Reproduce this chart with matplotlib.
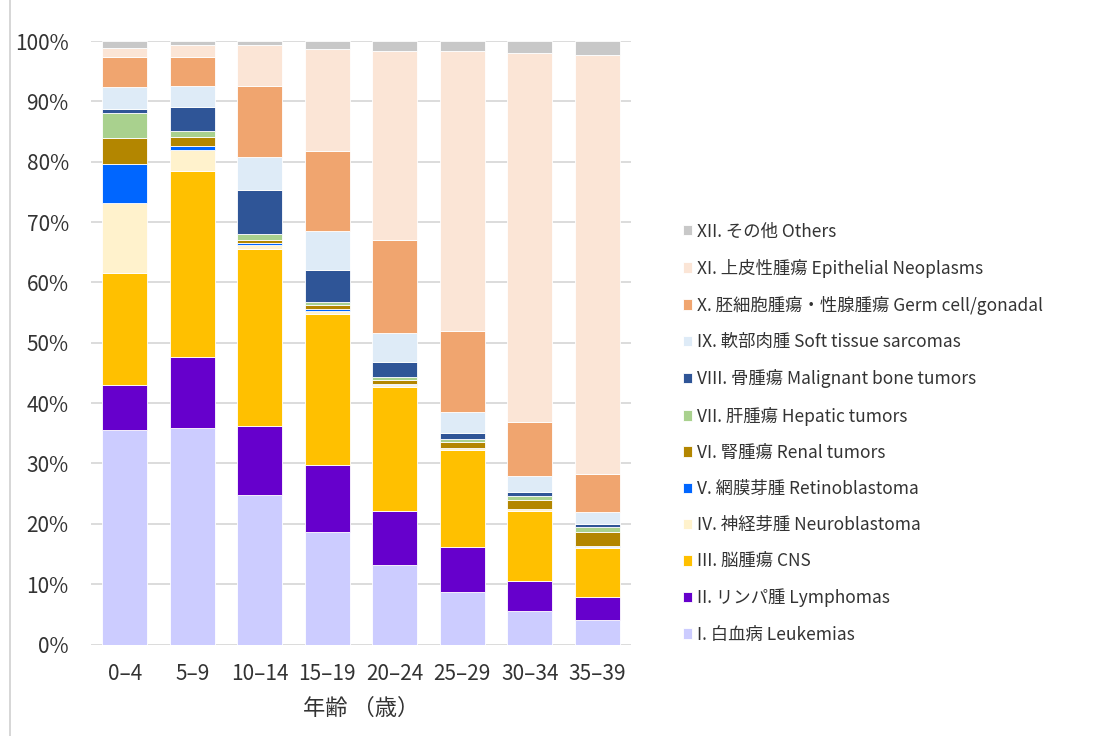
import numpy as np
import matplotlib
matplotlib.use("Agg")
import matplotlib.pyplot as plt
from matplotlib.lines import Line2D

plt.rcParams['font.family'] = ['Noto Sans CJK JP', 'DejaVu Sans']

# age groups
ages = ["0–4", "5–9", "10–14", "15–19", "20–24", "25–29", "30–34", "35–39"]

# share of each diagnostic group per age band (%)
leukemias = [35.5, 35.9, 24.8, 18.6, 13.2, 8.7, 5.5, 4.0]
lymphomas = [7.5, 11.8, 11.4, 11.1, 9.0, 7.5, 5.1, 3.9]
cns = [18.6, 30.8, 29.4, 25.1, 20.5, 16.0, 11.6, 8.1]
neuroblastoma = [11.6, 3.4, 0.6, 0.5, 0.3, 0.3, 0.2, 0.2]
retinoblastoma = [6.4, 0.7, 0.3, 0.3, 0.2, 0.1, 0.1, 0.1]
renal = [4.3, 1.5, 0.5, 0.7, 0.6, 1.0, 1.4, 2.3]
hepatic = [4.2, 1.0, 1.0, 0.4, 0.6, 0.4, 0.7, 0.8]
bone = [0.6, 3.9, 7.3, 5.3, 2.4, 1.0, 0.6, 0.5]
soft_tissue = [3.6, 3.6, 5.5, 6.5, 4.8, 3.6, 2.8, 2.1]
germ_cell = [5.0, 4.7, 11.8, 13.2, 15.4, 13.3, 8.8, 6.3]
epithelial = [1.5, 2.1, 6.8, 16.9, 31.4, 46.5, 61.2, 69.4]
others = [1.2, 0.6, 0.6, 1.4, 1.6, 1.6, 2.0, 2.3]

labels = [
    "I. 白血病 Leukemias",
    "II. リンパ腫 Lymphomas",
    "III. 脳腫瘍 CNS",
    "IV. 神経芽腫 Neuroblastoma",
    "V. 網膜芽腫 Retinoblastoma",
    "VI. 腎腫瘍 Renal tumors",
    "VII. 肝腫瘍 Hepatic tumors",
    "VIII. 骨腫瘍 Malignant bone tumors",
    "IX. 軟部肉腫 Soft tissue sarcomas",
    "X. 胚細胞腫瘍・性腺腫瘍 Germ cell/gonadal",
    "XI. 上皮性腫瘍 Epithelial Neoplasms",
    "XII. その他 Others",
]
colors = ["#CCCCFF", "#6600CC", "#FFC000", "#FFF2CC", "#0066FF", "#B38600",
          "#A9D18E", "#2F5597", "#DEEBF7", "#F0A56F", "#FBE5D6", "#C8C8C8"]

series = [leukemias, lymphomas, cns, neuroblastoma, retinoblastoma, renal,
          hepatic, bone, soft_tissue, germ_cell, epithelial, others]

fig = plt.figure(figsize=(11.05, 7.36), dpi=100)
ax = fig.add_axes([91 / 1105, 1 - 644.5 / 736, 540 / 1105, 603.5 / 736])

x = np.arange(len(ages))
bottom = np.zeros(len(ages))
handles = []
for vals, lab, col in zip(series, labels, colors):
    vals = np.array(vals)
    b = ax.bar(x, vals, bottom=bottom, width=0.67, color=col,
               edgecolor="white", linewidth=0.6, label=lab, zorder=3)
    handles.append(b)
    bottom += vals

ax.set_xlim(-0.5, len(ages) - 0.5)
ax.set_ylim(0, 100)
ax.set_yticks(np.arange(0, 101, 10))
ax.set_yticklabels([f"{v}%" for v in range(0, 101, 10)], fontsize=15, color="#333333")
ax.set_xticks(x)
ax.set_xticklabels(ages, fontsize=15, color="#333333")
ax.tick_params(axis="x", length=0, pad=13)
ax.tick_params(axis="y", length=0, pad=16)
ax.yaxis.grid(True, color="#D9D9D9", linewidth=1.3, zorder=0)
for s in ax.spines.values():
    s.set_visible(False)
ax.set_xlabel("年齢 （歳）", fontsize=16, color="#333333", labelpad=9)

fig.legend(handles[::-1], labels[::-1], loc="center left",
           bbox_to_anchor=(674 / 1105, 1 - 433 / 736), frameon=False,
           fontsize=12.5, handlelength=0.55, handleheight=0.55, handletextpad=0.3,
           labelspacing=1.05, borderpad=0, labelcolor="#333333")

# chart frame edge on the left
fig.add_artist(Line2D([10 / 1105, 10 / 1105], [0, 1], transform=fig.transFigure,
                      color="#D0D0D0", linewidth=1.2))

fig.savefig("out.png", dpi=100)
